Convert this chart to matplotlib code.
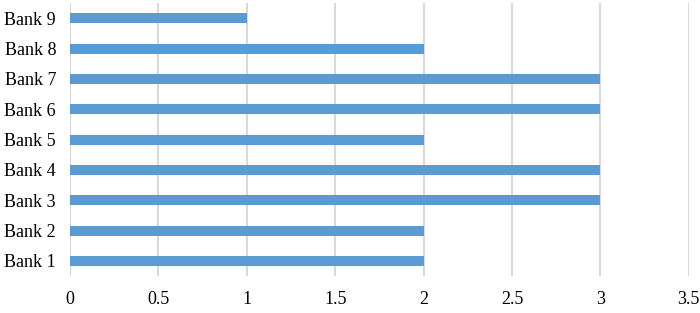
import matplotlib
matplotlib.use("Agg")
import matplotlib.pyplot as plt

banks = ["Bank 1", "Bank 2", "Bank 3", "Bank 4", "Bank 5", "Bank 6", "Bank 7", "Bank 8", "Bank 9"]
values = [2, 2, 3, 3, 2, 3, 3, 2, 1]
xticks = [0, 0.5, 1, 1.5, 2, 2.5, 3, 3.5]
xtick_labels = ["0", "0.5", "1", "1.5", "2", "2.5", "3", "3.5"]

plt.rcParams['font.family'] = ['Liberation Serif', 'DejaVu Serif']

fig = plt.figure(figsize=(7.0, 3.13), dpi=100)
ax = fig.add_axes([0.1, 0.118, 0.884, 0.872])

ax.barh(range(len(banks)), values, height=0.33, color="#5B9BD5", zorder=3)
ax.set_ylim(-0.5, len(banks) - 0.5)
ax.set_xlim(0, 3.5)
ax.set_xticks(xticks)
ax.set_xticklabels(xtick_labels)
ax.set_yticks(range(len(banks)))
ax.set_yticklabels(banks)
ax.grid(axis="x", color="#D9D9D9", linewidth=1.5, zorder=0)
ax.grid(axis="y", visible=False)
for s in ax.spines.values():
    s.set_visible(False)
ax.tick_params(axis="both", length=0, labelsize=13, colors="black")
ax.tick_params(axis="x", pad=11)
ax.tick_params(axis="y", pad=10)

fig.savefig("out.png", dpi=100)
